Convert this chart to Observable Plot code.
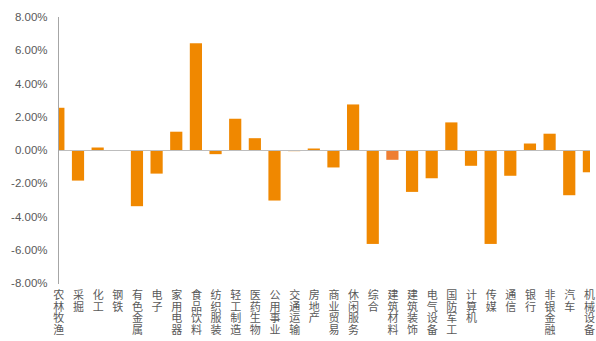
<!DOCTYPE html>
<html>
<head>
<meta charset="utf-8">
<script src="https://cdn.jsdelivr.net/npm/d3@7"></script>
<script src="https://cdn.jsdelivr.net/npm/@observablehq/plot@0.6"></script>
<style>
  html, body { margin: 0; padding: 0; background: #fff; }
</style>
</head>
<body>
<div id="chart"></div>
<script>
const categories = ["农林牧渔","采掘","化工","钢铁","有色金属","电子","家用电器","食品饮料","纺织服装","轻工制造","医药生物","公用事业","交通运输","房地产","商业贸易","休闲服务","综合","建筑材料","建筑装饰","电气设备","国防军工","计算机","传媒","通信","银行","非银金融","汽车","机械设备"];
const values = [2.54,-1.84,0.15,0.0,-3.38,-1.42,1.10,6.42,-0.25,1.88,0.71,-3.04,-0.07,0.09,-1.05,2.74,-5.65,-0.59,-2.52,-1.70,1.66,-0.95,-5.65,-1.55,0.39,0.98,-2.72,-1.34];
const highlight = ["建筑材料"];
const yTicks = [-8,-6,-4,-2,0,2,4,6,8];

const halfBar = 0.31;
const data = categories.map((c, i) => ({category: c, i, value: values[i] / 100}));

const chart = Plot.plot({
  width: 596,
  height: 341,
  marginTop: 17,
  marginBottom: 58,
  marginLeft: 58,
  marginRight: 6,
  style: {fontFamily: "'Liberation Sans', 'Noto Sans CJK SC', sans-serif", fontSize: "11px", color: "#595959", background: "#fff"},
  x: {type: "linear", domain: [-0.018, 27.056], axis: null},
  y: {domain: [-0.08, 0.08]},
  marks: [
    Plot.rectY(data, {x1: d => d.i - halfBar, x2: d => d.i + halfBar, y1: 0, y2: "value", fill: d => highlight.includes(d.category) ? "#EE7E33" : "#F08800", clip: "frame"}),
    Plot.ruleY([0], {stroke: "#BDBDBD", strokeWidth: 1}),
    Plot.frame({anchor: "left", stroke: "#A6A6A6"}),
    Plot.axisY(yTicks.map(d => d / 100), {tickSize: 0, tickPadding: 11, tickFormat: d => (d * 100).toFixed(2) + "%", fill: "#595959", fontSize: 11.5, label: null}),
    Plot.text(data, {x: "i", text: d => [...d.category].join("\n"), frameAnchor: "bottom", lineAnchor: "top", textAnchor: "middle", dy: 7, lineHeight: 1.07, fill: "#595959", fontSize: 11, fontFamily: "'Noto Sans CJK SC', sans-serif"})
  ]
});
document.getElementById("chart").appendChild(chart);
</script>
</body>
</html>
